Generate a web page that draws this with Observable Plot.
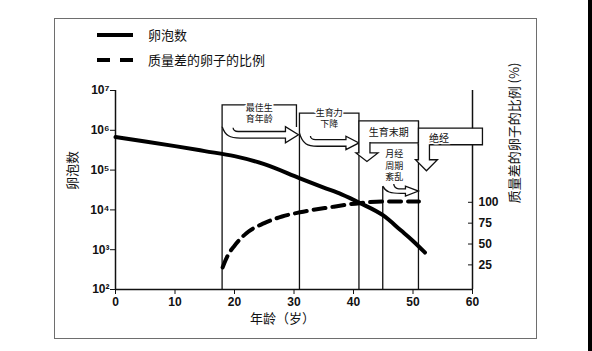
<!DOCTYPE html>
<html>
<head>
<meta charset="utf-8">
<script src="https://cdn.jsdelivr.net/npm/d3@7"></script>
<script src="https://cdn.jsdelivr.net/npm/@observablehq/plot@0.6"></script>
<style>
  html, body { margin: 0; padding: 0; background: #fff; }
  #wrap { position: relative; width: 592px; height: 351px; overflow: hidden; background: #fff;
          font-family: "Liberation Sans", "Noto Sans CJK SC", sans-serif; }
  .abs { position: absolute; }
  #frame { left: 54px; top: 18px; width: 483px; height: 321px; box-sizing: border-box; border: 1px solid #6e6e6e; }
  .lg { position: absolute; background: #000; height: 4px; }
  .lt { position: absolute; font-family: "Noto Sans CJK SC", sans-serif; font-size: 13px; line-height: 18px; color: #111; }
  #main, #over { position: absolute; left: 0; top: 0; }
  #over { pointer-events: none; }
  #strip { left: 588px; top: 0; width: 4px; height: 351px; background: #000; }
  #y2label { position: absolute; left: 514px; top: 133px; white-space: nowrap;
             font-family: "Noto Sans CJK SC", sans-serif; font-size: 13px; line-height: 16px; color: #111;
             transform: translate(-50%, -50%) rotate(-90deg); }
</style>
</head>
<body>
<div id="wrap">
  <div id="frame" class="abs"></div>
  <div class="lg" style="left:97px;top:33px;width:36px"></div>
  <div class="lt" style="left:148px;top:26px">卵泡数</div>
  <div class="lg" style="left:97px;top:58px;width:13px"></div>
  <div class="lg" style="left:120px;top:58px;width:13px"></div>
  <div class="lt" style="left:148px;top:51px">质量差的卵子的比例</div>
  <div id="main"></div>
  <div id="over"></div>
  <div id="y2label"></div>
  <div id="strip" class="abs"></div>
</div>
<script>
// ---- data ----
const xTicks = [0, 10, 20, 30, 40, 50, 60];
const yTicks = [1e2, 1e3, 1e4, 1e5, 1e6, 1e7];
const pctTicks = [25, 50, 75, 100];

const follicleAge   = [0, 5, 10, 15, 20, 25, 31, 35, 38, 41, 45, 48, 50, 52];
const follicleCount = [680000, 525000, 400000, 300000, 224000, 141000, 62000, 36300, 24500, 15100, 7240, 3020, 1660, 850];

const poorAge = [18, 19, 20, 22, 25, 28, 31, 36, 41, 45, 51];
const poorPct = [22, 38, 48, 63, 75, 83, 88, 94, 99, 101, 101];

const phaseAges = [18, 31, 41, 45, 51];
const phaseLabels = [["最佳生", "育年龄"], ["生育力", "下降"], ["生育末期"], ["月经", "周期", "紊乱"], ["绝经"]];

const xLabel = "年龄（岁）";
const yLabel = "卵泡数";
const y2Label = "质量差的卵子的比例 (%)";

// ---- tables ----
const follicles = follicleAge.map((a, i) => ({age: a, count: follicleCount[i]}));
const poor = poorAge.map((a, i) => ({age: a, pct: poorPct[i]}));

const sup = {"0":"⁰","1":"¹","2":"²","3":"³","4":"⁴","5":"⁵","6":"⁶","7":"⁷","8":"⁸","9":"⁹"};
const fmtPow = d => "10" + String(Math.round(Math.log10(d))).split("").map(c => sup[c]).join("");

const W = 592, H = 351;
const M = {left: 115, right: 120, top: 90, bottom: 62};
const FONT = '"Liberation Sans", "Noto Sans CJK SC", sans-serif';
const CJK = '"Noto Sans CJK SC", sans-serif';

// annotation layer anchored on the scales
function annotate(index, scales) {
  const X = scales.x, Y = e => scales.y(10 ** e);
  const [a0, a1, a2, a3, a4] = phaseAges.map(X);
  const base = Y(2);
  const yB1 = Y(6.625), yB2 = Y(6.42), yB3 = Y(6.225), yB3b = Y(5.67), yB4 = Y(6.04), yB4b = Y(5.625), y45 = Y(4.58);
  const g = d3.create("svg:g").attr("stroke", "#111").attr("stroke-width", 1.3).attr("fill", "none");
  const path = (d, fill = "none") => g.append("path").attr("d", d).attr("fill", fill);
  const curved = (xw, xt, yc, hh, sh, tail) =>
    path(`M${xw},${yc - tail}C${xw + 3},${yc + 1} ${xw + 8},${yc + sh} ${xw + 18},${yc + sh}H${xt - 13}V${yc + hh}L${xt},${yc}L${xt - 13},${yc - hh}V${yc - sh}H${xw + 16}C${xw + 13},${yc - sh} ${xw + 11},${yc - 5} ${xw + 11},${yc - 7}`, "white");
  const down = (xl, yTop, yBase, yTip) =>
    path(`M${xl},${yTop}V${yBase}H${xl - 3}L${xl + 8},${yTip}L${xl + 19},${yBase}H${xl + 11}V${yTop}`, "white");
  // one text element per label, one tspan per line
  const text = (lines, x, y, size, step) => {
    const t = g.append("text").attr("x", x).attr("y", y)
      .attr("text-anchor", "middle").attr("dominant-baseline", "central")
      .attr("font-family", FONT).attr("font-size", size).attr("fill", "#111")
      .attr("stroke", "white").attr("stroke-width", 3).attr("paint-order", "stroke");
    lines.forEach((s, i) => t.append("tspan").attr("x", x).attr("y", y + i * step).text(s));
  };

  path(`M${a0},${base}V${yB1}H${a1 - 3}V${yB1 + 22}`);
  path(`M${a1},${base}V${yB2}H${a2}V${base}`);
  path(`M${a3},${base}V${y45}`);
  path(`M${a4},${base}V${yB3}`);
  path(`M${a2},${yB3}H${a4}V${yB3b}H${a2}Z`, "white");
  path(`M${a4},${yB4}h64V${yB4b}H${a4}Z`, "white");
  curved(a0, a1 - 1, Y(5.875), 8, 3.3, 8.3);
  curved(a1, a2, Y(5.67), 6.7, 3.3, 10);
  curved(a3, a4, Y(4.46), 5, 2.3, 5);
  down(a2, yB3b - 1, yB3b + 10, yB3b + 18.5);
  down(a4, yB4b - 1, yB4b + 15, yB4b + 26);

  const c1 = (a0 + a1 - 3) / 2, c2 = (a1 + a2) / 2, c3 = (a2 + a4) / 2, c5 = (a2 + 11 + a4) / 2;
  text(phaseLabels[0], c1, yB1 + 3, 9, 11);
  text(phaseLabels[1], c2, yB2, 9, 11);
  text(phaseLabels[2], c3, (yB3 + yB3b) / 2, 10, 11);
  text(phaseLabels[3], c5, yB3b + 11.5, 9, 11.2);
  text(phaseLabels[4], a4 + 20.5, (yB4 + yB4b) / 2 + 1.5, 10, 11);
  return g.node();
}

const main = Plot.plot({
  width: W, height: H,
  marginLeft: M.left, marginRight: M.right, marginTop: M.top, marginBottom: M.bottom,
  style: {background: "transparent", fontFamily: FONT, fontSize: "12px", color: "#111", overflow: "visible"},
  x: {domain: [0, 60]},
  y: {type: "log", domain: [1e2, 1e7]},
  marks: [
    Plot.axisX({ticks: xTicks, tickSize: 5, tickPadding: 3, label: null, fontWeight: "bold", fontSize: 12, stroke: "#111"}),
    Plot.axisY({ticks: yTicks, tickSize: 5, tickPadding: 1, tickFormat: fmtPow, label: null, fontWeight: "bold", fontSize: 12, stroke: "#111"}),
    Plot.ruleX([0, 60], {stroke: "#111", strokeWidth: 1.5}),
    Plot.ruleY([1e2], {stroke: "#111", strokeWidth: 1.5}),
    annotate,
    Plot.line(follicles, {x: "age", y: "count", stroke: "#000", strokeWidth: 4, curve: "monotone-x"}),
    Plot.text([yLabel], {frameAnchor: "left", dx: -43, rotate: -90, fontSize: 13, fontFamily: CJK, fill: "#111"}),
    Plot.text([xLabel], {frameAnchor: "bottom", dx: -11.5, dy: 33, fontSize: 13, fontFamily: CJK, fill: "#111"})
  ]
});
document.getElementById("main").appendChild(main);

const over = Plot.plot({
  width: W, height: H,
  marginLeft: M.left, marginRight: M.right, marginTop: M.top, marginBottom: M.bottom,
  style: {background: "transparent", fontFamily: FONT, fontSize: "12px", color: "#111", overflow: "visible"},
  x: {domain: [0, 60], axis: null},
  y: {domain: [-4.5, 234]},
  marks: [
    Plot.line(poor, {x: "age", y: "pct", stroke: "#000", strokeWidth: 4, strokeDasharray: "12,7", curve: "monotone-x"}),
    Plot.axisY({anchor: "right", ticks: pctTicks, tickSize: 5, dx: -5, tickPadding: 6, label: null, fontWeight: "bold", fontSize: 12, stroke: "#111"})
  ]
});
document.getElementById("over").appendChild(over);
document.getElementById("y2label").textContent = y2Label;
</script>
</body>
</html>
